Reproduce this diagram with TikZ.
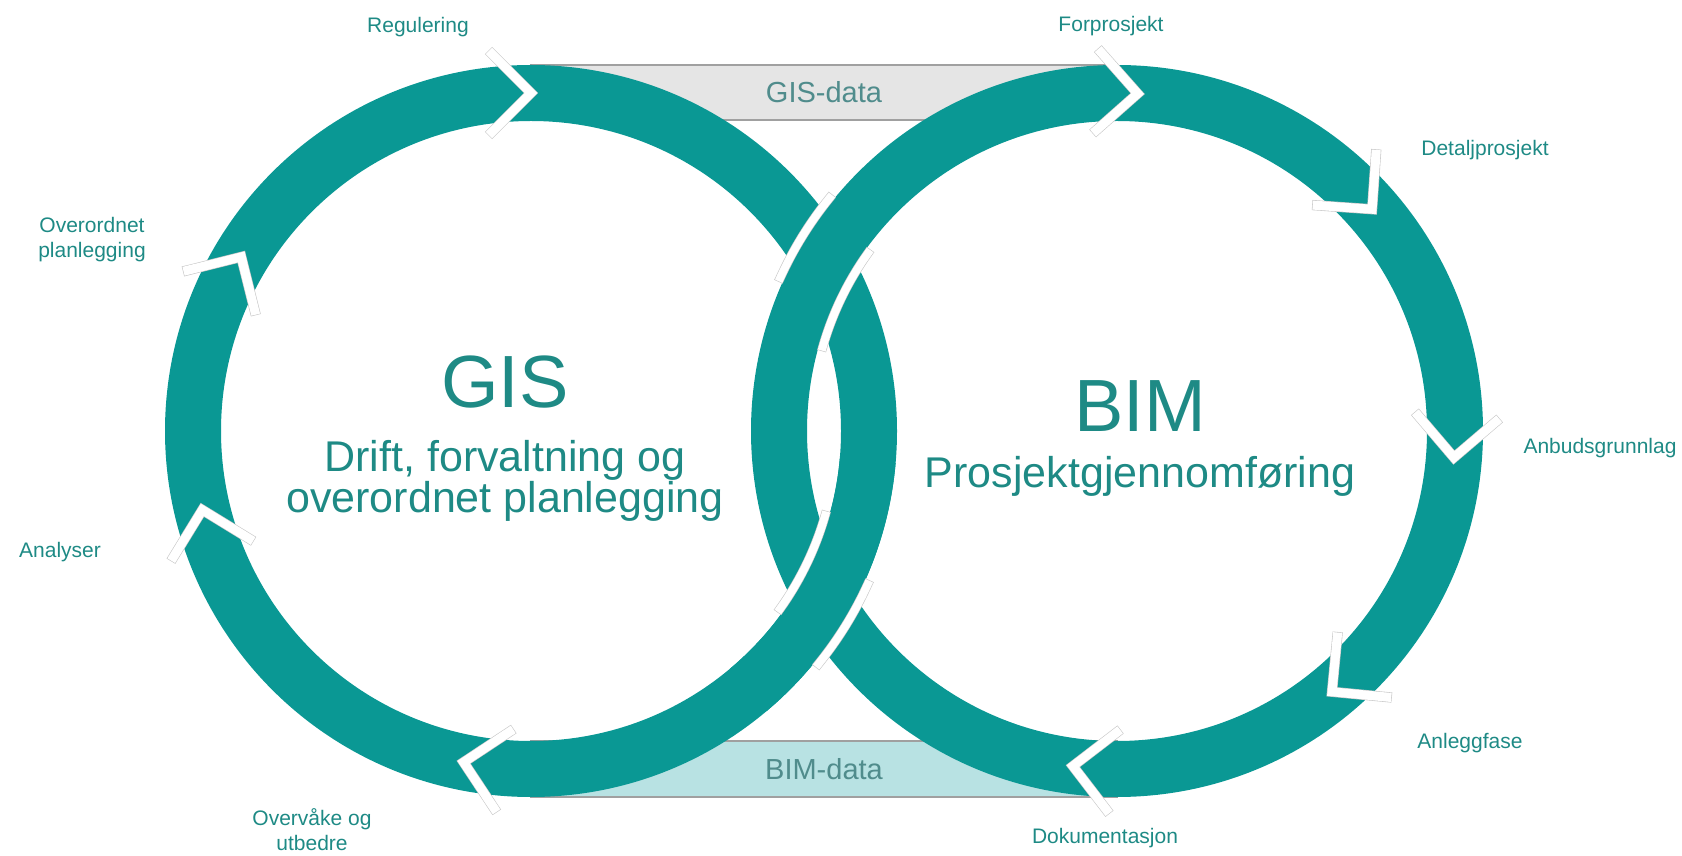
\documentclass[tikz,border=0pt]{standalone}
\usepackage{fontspec}
\setmainfont{Liberation Sans}

\definecolor{ringcol}{RGB}{10,152,148}
\definecolor{txtcol}{RGB}{30,138,133}
\definecolor{datatxt}{RGB}{80,140,140}
\definecolor{gisfill}{RGB}{229,229,229}
\definecolor{bimfill}{RGB}{184,226,227}
\definecolor{boxedge}{RGB}{160,160,160}

\tikzset{
  band/.style={draw=ringcol, line width=56pt},
  chevron/.style={draw=black!22, double=white, double distance=9pt, line width=0.6pt, line join=miter, line cap=rect},
  seam/.style={draw=black!22, double=white, double distance=8pt, line width=0.6pt, line cap=rect},
  databox/.style={draw=boxedge, line width=1.2pt, minimum width=586pt, minimum height=55pt, inner sep=0pt, text=datatxt, font=\fontsize{29}{32}\selectfont},
  lbl/.style={text=txtcol, font=\fontsize{21}{25}\selectfont, align=center, inner sep=0pt},
  headline/.style={text=txtcol, font=\fontsize{74}{80}\selectfont, anchor=base, inner sep=0pt},
  subline/.style={text=txtcol, font=\fontsize{43}{45}\selectfont, anchor=base, inner sep=0pt}
}

\begin{document}
\begin{tikzpicture}[x=1pt, y=1pt]
    \useasboundingbox (0,0) rectangle (1682,855);
    \coordinate (L) at (531,424);
    \coordinate (R) at (1117,424);
    \node [databox, fill=gisfill] (gisdata) at (824,762.5) {GIS-data};
    \node [databox, fill=bimfill, minimum height=56pt] (bimdata) at (824,86) {BIM-data};
    \draw [band] (L) circle [radius=338];
    \draw [band] (R) circle [radius=338];
    \draw [band] (L) ++(-50:338) arc [start angle=-50, end angle=-5, radius=338];
    \draw [seam] (R) ++(141:370) arc [start angle=141, end angle=155.5, radius=370];
    \draw [seam] (R) ++(144.5:306) arc [start angle=144.5, end angle=164, radius=306];
    \draw [seam] (L) ++(-39:370) arc [start angle=-39, end angle=-24.5, radius=370];
    \draw [seam] (L) ++(-35.5:306) arc [start angle=-35.5, end angle=-16, radius=306];
    \foreach \a in {90,149,193.5,258.5}
        \draw [chevron] (L) ++(\a:338) ++(\a+135:55) -- ++(\a-45:55) -- ++(\a+45:55);
    \foreach \a in {86.5,41,-4.5,-50.5,-97.5}
        \draw [chevron] (R) ++(\a:338) ++(\a+135:55) -- ++(\a-45:55) -- ++(\a+45:55);
    \node [lbl] (reg) at (418,828) {Regulering};
    \node [lbl] (ovpl) at (92,615) {Overordnet\\planlegging};
    \node [lbl] (ana) at (60,303) {Analyser};
    \node [lbl] (ovu) at (312,25) {Overvåke og\\utbedre};
    \node [lbl] (forp) at (1111,829) {Forprosjekt};
    \node [lbl] (detp) at (1485,705) {Detaljprosjekt};
    \node [lbl] (anb) at (1600,407) {Anbudsgrunnlag};
    \node [lbl] (anl) at (1470,112) {Anleggfase};
    \node [lbl] (dok) at (1105,17) {Dokumentasjon};
    \node [headline] (gis) at (505,447) {GIS};
    \node [subline] (gisa) at (505,383) {Drift, forvaltning og};
    \node [subline] (gisb) at (505,342) {overordnet planlegging};
    \node [headline] (bim) at (1140,423) {BIM};
    \node [subline] (bima) at (1140,367) {Prosjektgjennomføring};
\end{tikzpicture}
\end{document}
